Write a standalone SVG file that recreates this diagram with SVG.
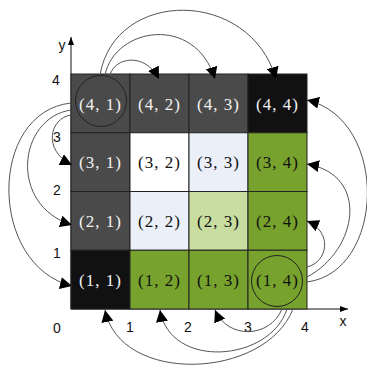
<svg xmlns="http://www.w3.org/2000/svg" width="367" height="365" viewBox="0 0 367 365">
<defs>
<style>
.dk{fill:#4a4a4a}.bk{fill:#111111}.wh{fill:#ffffff}.lb{fill:#eaeff8}.lg{fill:#c8dea0}.gr{fill:#77a22d}
.cell{stroke:#222;stroke-width:1}
.t{font-family:"Liberation Serif","DejaVu Serif",serif;font-size:17px;letter-spacing:1px;text-anchor:middle}
.tw{fill:#f2f2f2}.tb{fill:#111}
.ax{font-family:"Liberation Sans",Arial,sans-serif;font-size:14px;fill:#111;text-anchor:middle}
.arc{fill:none;stroke:#555;stroke-width:1}
.axis{stroke:#111;stroke-width:1;fill:none}
.ring{fill:none;stroke:#222;stroke-width:1}
</style>
<marker id="ah" viewBox="0 0 12 12" refX="12" refY="6" markerWidth="12" markerHeight="12" markerUnits="userSpaceOnUse" orient="auto">
<path d="M0,0 L12,6 L0,12 z" fill="#000"/>
</marker>
<marker id="axh" viewBox="0 0 8 6" refX="8" refY="3" markerWidth="8" markerHeight="6" markerUnits="userSpaceOnUse" orient="auto">
<path d="M0,0 L8,3 L0,6 z" fill="#000"/>
</marker>
</defs>
<rect width="367" height="365" fill="#fff"/>

<g id="axes">
<line class="axis" x1="71" y1="309" x2="71" y2="37" marker-end="url(#axh)"/>
<line class="axis" x1="71" y1="309" x2="348" y2="309" marker-end="url(#axh)"/>
<text class="ax" x="62" y="50">y</text>
<text class="ax" x="343" y="326">x</text>
<text class="ax" x="56" y="85">4</text>
<text class="ax" x="57" y="142">3</text>
<text class="ax" x="57" y="195">2</text>
<text class="ax" x="57" y="258">1</text>
<text class="ax" x="57" y="333">0</text>
<text class="ax" x="130" y="332">1</text>
<text class="ax" x="188" y="332">2</text>
<text class="ax" x="248" y="332">3</text>
<text class="ax" x="305" y="332">4</text>
</g>

<g id="c41"><rect class="cell dk" x="71" y="74" width="59" height="58.75"/><text class="t tw" x="100.5" y="109.5">(4, 1)</text></g>
<g id="c42"><rect class="cell dk" x="130" y="74" width="59" height="58.75"/><text class="t tw" x="159.5" y="109.5">(4, 2)</text></g>
<g id="c43"><rect class="cell dk" x="189" y="74" width="59" height="58.75"/><text class="t tw" x="218.5" y="109.5">(4, 3)</text></g>
<g id="c44"><rect class="cell bk" x="248" y="74" width="59" height="58.75"/><text class="t tw" x="277.5" y="109.5">(4, 4)</text></g>

<g id="c31"><rect class="cell dk" x="71" y="132.75" width="59" height="58.75"/><text class="t tw" x="100.5" y="168">(3, 1)</text></g>
<g id="c32"><rect class="cell wh" x="130" y="132.75" width="59" height="58.75"/><text class="t tb" x="159.5" y="168">(3, 2)</text></g>
<g id="c33"><rect class="cell lb" x="189" y="132.75" width="59" height="58.75"/><text class="t tb" x="218.5" y="168">(3, 3)</text></g>
<g id="c34"><rect class="cell gr" x="248" y="132.75" width="59" height="58.75"/><text class="t tb" x="277.5" y="168">(3, 4)</text></g>

<g id="c21"><rect class="cell dk" x="71" y="191.5" width="59" height="58.75"/><text class="t tw" x="100.5" y="227">(2, 1)</text></g>
<g id="c22"><rect class="cell lb" x="130" y="191.5" width="59" height="58.75"/><text class="t tb" x="159.5" y="227">(2, 2)</text></g>
<g id="c23"><rect class="cell lg" x="189" y="191.5" width="59" height="58.75"/><text class="t tb" x="218.5" y="227">(2, 3)</text></g>
<g id="c24"><rect class="cell gr" x="248" y="191.5" width="59" height="58.75"/><text class="t tb" x="277.5" y="227">(2, 4)</text></g>

<g id="c11"><rect class="cell bk" x="71" y="250.25" width="59" height="58.75"/><text class="t tw" x="100.5" y="285.5">(1, 1)</text></g>
<g id="c12"><rect class="cell gr" x="130" y="250.25" width="59" height="58.75"/><text class="t tb" x="159.5" y="285.5">(1, 2)</text></g>
<g id="c13"><rect class="cell gr" x="189" y="250.25" width="59" height="58.75"/><text class="t tb" x="218.5" y="285.5">(1, 3)</text></g>
<g id="c14"><rect class="cell gr" x="248" y="250.25" width="59" height="58.75"/><text class="t tb" x="277.5" y="285.5">(1, 4)</text></g>

<g id="ring41"><circle class="ring" cx="101" cy="101" r="25.5"/></g>
<g id="ring14"><circle class="ring" cx="277" cy="281" r="25.5"/></g>

<g id="connectors">
<path class="arc" d="M110,75 C115,57 145,52 159,79" marker-end="url(#ah)"/>
<path class="arc" d="M105,75 C115,27 195,14 215,79" marker-end="url(#ah)"/>
<path class="arc" d="M100,75 C115,-12 250,-12 276,79" marker-end="url(#ah)"/>

<path class="arc" d="M71,115 C50,118 42,150 72,165" marker-end="url(#ah)"/>
<path class="arc" d="M71,110 C18,118 8,205 72,225" marker-end="url(#ah)"/>
<path class="arc" d="M71,103 C-12,112 -12,265 72,286" marker-end="url(#ah)"/>

<path class="arc" d="M307,267 C328,262 333,232 307,221" marker-end="url(#ah)"/>
<path class="arc" d="M307,277 C358,250 370,175 307,164" marker-end="url(#ah)"/>
<path class="arc" d="M307,282 C385,272 390,120 307,100" marker-end="url(#ah)"/>

<path class="arc" d="M282,309 C270,338 228,340 215,310" marker-end="url(#ah)"/>
<path class="arc" d="M287,309 C270,362 170,370 160,310" marker-end="url(#ah)"/>
<path class="arc" d="M293,309 C265,380 120,385 105,310" marker-end="url(#ah)"/>
</g>
</svg>
